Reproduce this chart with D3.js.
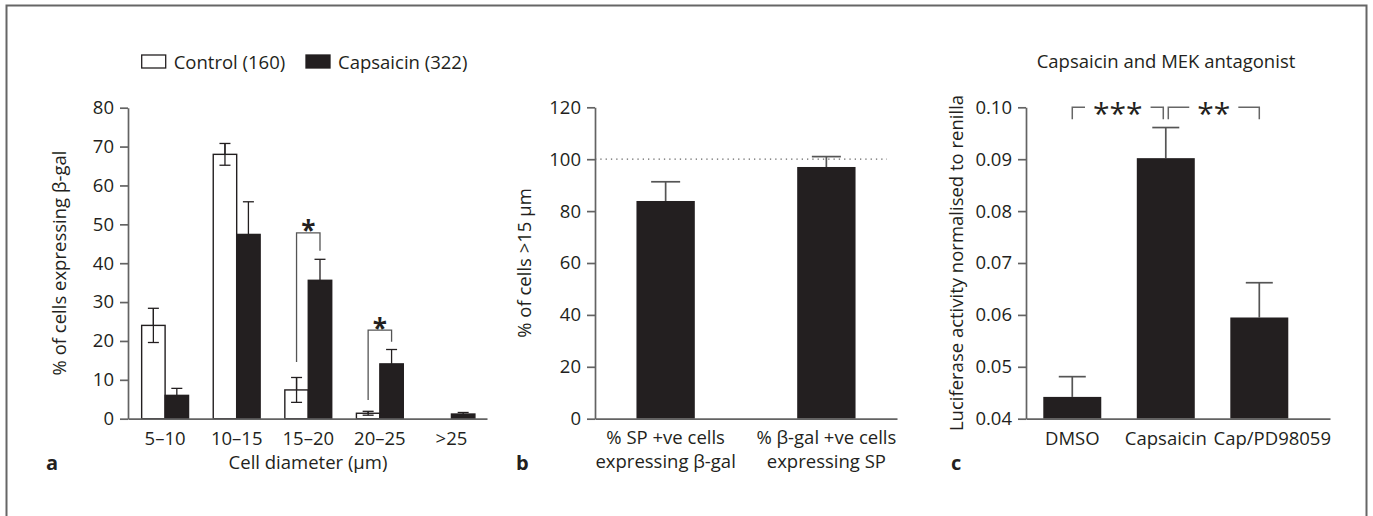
<!DOCTYPE html>
<html><head><meta charset="utf-8">
<script src="https://cdn.jsdelivr.net/npm/d3@7"></script>
<style>
body{margin:0;background:#fff}
svg{display:block}
text{font-family:"Open Sans",sans-serif;fill:#231f20}
</style>
</head><body>
<svg id="chart" width="1373" height="516"></svg>
<script>
// ---------- Panel a data ----------
const aCategories = ["5–10", "10–15", "15–20", "20–25", ">25"];
const aSeries = ["Control (160)", "Capsaicin (322)"];
const aControl = [24.0, 68.0, 7.4, 1.4, 0];
const aControlErr = [4.4, 2.8, 3.2, 0.5, 0];
const aCapsaicin = [6.0, 47.4, 35.6, 14.1, 1.2];
const aCapsaicinErr = [1.8, 8.4, 5.4, 3.7, 0.4];
const aTicks = [0, 10, 20, 30, 40, 50, 60, 70, 80];
const aSig = [
  {cat: "15–20", top: 47.8, left: 14.6, right: 43.2, label: "*"},
  {cat: "20–25", top: 22.8, left: 4.8, right: 19.8, label: "*"}
];

// ---------- Panel b data ----------
const bCategories = ["% SP +ve cells|expressing β-gal", "% β-gal +ve cells|expressing SP"];
const bValues = [83.9, 97.0];
const bErr = [7.4, 4.0];
const bTicks = [0, 20, 40, 60, 80, 100, 120];
const bReference = 100;

// ---------- Panel c data ----------
const cCategories = ["DMSO", "Capsaicin", "Cap/PD98059"];
const cValues = [0.0442, 0.0902, 0.0595];
const cErr = [0.0039, 0.0059, 0.0067];
const cTicks = [0.04, 0.05, 0.06, 0.07, 0.08, 0.09, 0.10];
const cSig = [
  {from: "DMSO", to: "Capsaicin", label: "***"},
  {from: "Capsaicin", to: "Cap/PD98059", label: "**"}
];
const cSigLevel = 0.10, cSigDrop = 0.0977;

// ---------- common ----------
const svg = d3.select("#chart");
const INK = "#231f20", AXIS = "#636363", FS = 18.5;

svg.append("rect").attr("x", 6.5).attr("y", 5.5).attr("width", 1360).attr("height", 520)
  .attr("fill", "none").attr("stroke", "#666").attr("stroke-width", 2);

function yAxis(g, y, x0, ticks, fmt) {
  const ax = g.append("g").attr("transform", `translate(${x0},0)`)
    .call(d3.axisLeft(y).tickValues(ticks).tickSize(8).tickSizeOuter(0).tickPadding(6).tickFormat(fmt));
  ax.select(".domain").attr("stroke", AXIS).attr("stroke-width", 1.7);
  ax.selectAll(".tick line").attr("stroke", AXIS).attr("stroke-width", 1.7);
  ax.selectAll(".tick text").attr("font-size", FS).attr("fill", INK).style("font-family", '"Open Sans",sans-serif');
  return ax;
}
function xLine(g, x, yPix) {
  const ax = g.append("g").attr("transform", `translate(0,${yPix})`)
    .call(d3.axisBottom(x).tickSize(0).tickSizeOuter(0).tickFormat(""));
  ax.select(".domain").attr("stroke", AXIS).attr("stroke-width", 1.7);
  ax.selectAll(".tick").remove();
}
function yLabel(g, text, cx, cy) {
  g.append("text").attr("transform", `translate(${cx},${cy}) rotate(-90)`)
    .attr("text-anchor", "middle").attr("dy", "0.35em").attr("font-size", FS).text(text);
}

// ================= Panel a =================
{
  const g = svg.append("g");
  const y = d3.scaleLinear().domain([0, 80]).range([418.7, 107.7]);
  const x = d3.scaleBand().domain(aCategories).range([128, 487]).paddingInner(0.345).paddingOuter(0.18).align(0.53);
  const x1 = d3.scaleBand().domain(aSeries).range([0, x.bandwidth()]);
  const rows = aCategories.map((c, i) => ({c, vals: [
    {s: aSeries[0], v: aControl[i], e: aControlErr[i]},
    {s: aSeries[1], v: aCapsaicin[i], e: aCapsaicinErr[i]}]}));

  rows.forEach(r => r.vals.forEach((d, j) => {
    if (d.v <= 0) return;
    const cx = x(r.c) + x1(d.s) + x1.bandwidth() / 2;
    g.append("line").attr("x1", cx).attr("x2", cx).attr("y1", y(d.v)).attr("y2", y(d.v + d.e))
      .attr("stroke", INK).attr("stroke-width", 1.3);
  }));
  rows.forEach(r => r.vals.forEach((d, j) => {
    if (d.v <= 0) return;
    g.append("rect").attr("x", x(r.c) + x1(d.s)).attr("width", x1.bandwidth())
      .attr("y", y(d.v)).attr("height", y(0) - y(d.v))
      .attr("fill", j === 0 ? "none" : INK).attr("stroke", INK).attr("stroke-width", 1.4);
  }));
  rows.forEach(r => r.vals.forEach((d, j) => {
    if (d.v <= 0) return;
    const cx = x(r.c) + x1(d.s) + x1.bandwidth() / 2;
    const hw = 5.5;
    g.append("line").attr("x1", cx - hw).attr("x2", cx + hw).attr("y1", y(d.v + d.e)).attr("y2", y(d.v + d.e))
      .attr("stroke", INK).attr("stroke-width", 1.3);
    if (j === 0 && d.v - d.e > 0) {
      g.append("line").attr("x1", cx).attr("x2", cx).attr("y1", y(d.v - d.e)).attr("y2", y(d.v + d.e))
        .attr("stroke", INK).attr("stroke-width", 1.3);
      g.append("line").attr("x1", cx - hw).attr("x2", cx + hw).attr("y1", y(d.v - d.e)).attr("y2", y(d.v - d.e))
        .attr("stroke", INK).attr("stroke-width", 1.3);
    }
  }));
  aSig.forEach(s => {
    const xl = x(s.cat) + x1(aSeries[0]) + x1.bandwidth() / 2;
    const xr = x(s.cat) + x1(aSeries[1]) + x1.bandwidth() / 2;
    g.append("path").attr("d", `M${xl},${y(s.left)}V${y(s.top)}H${xr}V${y(s.right)}`)
      .attr("fill", "none").attr("stroke", "#555").attr("stroke-width", 1.3);
    g.append("text").attr("x", (xl + xr) / 2).attr("y", y(s.top) + 7.5).attr("text-anchor", "middle")
      .attr("font-size", 26).attr("font-weight", "bold").text(s.label);
  });

  yAxis(g, y, 128, aTicks, d3.format("d"));
  xLine(g, x, y(0));
  aCategories.forEach(c => g.append("text").attr("x", x(c) + x.bandwidth() / 2).attr("y", 445)
    .attr("text-anchor", "middle").attr("font-size", FS).text(c));
  g.append("text").attr("x", 308).attr("y", 469).attr("text-anchor", "middle").attr("font-size", FS).text("Cell diameter (μm)");
  yLabel(g, "% of cells expressing β-gal", 60, 263);
  g.append("text").attr("x", 46).attr("y", 470).attr("font-size", 20).attr("font-weight", "bold").text("a");

  const lx = [141.7, 306];
  aSeries.forEach((s, j) => {
    g.append("rect").attr("x", lx[j]).attr("y", 55).attr("width", 24).attr("height", 13)
      .attr("fill", j === 0 ? "#fff" : INK).attr("stroke", INK).attr("stroke-width", 1.3);
    g.append("text").attr("x", lx[j] + 32).attr("y", 68.5).attr("font-size", FS).text(s);
  });
}

// ================= Panel b =================
{
  const g = svg.append("g");
  const y = d3.scaleLinear().domain([0, 120]).range([418.7, 107.3]);
  const x = d3.scaleBand().domain(bCategories).range([595, 897]).paddingInner(0.637).paddingOuter(0.258).align(0.5);
  bCategories.forEach((c, i) => {
    const cx = x(c) + x.bandwidth() / 2;
    g.append("line").attr("x1", cx).attr("x2", cx).attr("y1", y(bValues[i])).attr("y2", y(bValues[i] + bErr[i]))
      .attr("stroke", "#555").attr("stroke-width", 1.7);
    g.append("line").attr("x1", cx - 14.5).attr("x2", cx + 14.5).attr("y1", y(bValues[i] + bErr[i])).attr("y2", y(bValues[i] + bErr[i]))
      .attr("stroke", "#555").attr("stroke-width", 1.7);
    g.append("rect").attr("x", x(c)).attr("width", x.bandwidth()).attr("y", y(bValues[i]))
      .attr("height", y(0) - y(bValues[i])).attr("fill", INK);
  });
  g.append("line").attr("x1", 595).attr("x2", 887).attr("y1", y(bReference)).attr("y2", y(bReference))
    .attr("stroke", "#666").attr("stroke-width", 1.2).attr("stroke-dasharray", "1.3,4");
  yAxis(g, y, 595, bTicks, d3.format("d"));
  xLine(g, x, y(0));
  bCategories.forEach(c => {
    const parts = c.split("|");
    parts.forEach((p, k) => g.append("text").attr("x", x(c) + x.bandwidth() / 2).attr("y", 443.5 + k * 24.3)
      .attr("text-anchor", "middle").attr("font-size", FS).text(p));
  });
  yLabel(g, "% of cells >15 μm", 525, 263);
  g.append("text").attr("x", 516).attr("y", 470).attr("font-size", 20).attr("font-weight", "bold").text("b");
}

// ================= Panel c =================
{
  const g = svg.append("g");
  const y = d3.scaleLinear().domain([0.04, 0.10]).range([418.7, 107.3]);
  const x = d3.scaleBand().domain(cCategories).range([1026, 1330]).paddingInner(0.38).paddingOuter(0.3155).align(0.293);
  cCategories.forEach((c, i) => {
    const cx = x(c) + x.bandwidth() / 2;
    g.append("line").attr("x1", cx).attr("x2", cx).attr("y1", y(cValues[i])).attr("y2", y(cValues[i] + cErr[i]))
      .attr("stroke", "#555").attr("stroke-width", 1.7);
    g.append("line").attr("x1", cx - 13.5).attr("x2", cx + 13.5).attr("y1", y(cValues[i] + cErr[i])).attr("y2", y(cValues[i] + cErr[i]))
      .attr("stroke", "#555").attr("stroke-width", 1.7);
    g.append("rect").attr("x", x(c)).attr("width", x.bandwidth()).attr("y", y(cValues[i]))
      .attr("height", y(0.04) - y(cValues[i])).attr("fill", INK);
  });
  cSig.forEach((s, k) => {
    let xl = x(s.from) + x.bandwidth() / 2, xr = x(s.to) + x.bandwidth() / 2;
    if (k === 0) xr -= 2.5; else xl += 2.5;
    const yt = y(cSigLevel), yb = y(cSigDrop);
    const mid = (xl + xr) / 2;
    const t = g.append("text").attr("x", mid).attr("y", yt + 16.5).attr("text-anchor", "middle")
      .attr("font-size", 30).attr("fill", "#333").text(s.label);
    const w = t.node().getComputedTextLength() / 2 + 8;
    g.append("path").attr("d", `M${xl},${yb}V${yt}H${mid - w}M${mid + w},${yt}H${xr}V${yb}`)
      .attr("fill", "none").attr("stroke", "#666").attr("stroke-width", 1.5);
  });
  yAxis(g, y, 1026, cTicks, d3.format(".2f"));
  xLine(g, x, y(0.04));
  cCategories.forEach((c, i) => g.append("text").attr("x", x(c) + x.bandwidth() / 2 + (i === 2 ? 13 : 0)).attr("y", 444.5)
    .attr("text-anchor", "middle").attr("font-size", FS).text(c));
  g.append("text").attr("x", 1166).attr("y", 68).attr("text-anchor", "middle").attr("font-size", FS).text("Capsaicin and MEK antagonist");
  yLabel(g, "Luciferase activity normalised to renilla", 957, 263);
  g.append("text").attr("x", 951).attr("y", 470).attr("font-size", 20).attr("font-weight", "bold").text("c");
}
</script>
</body></html>
